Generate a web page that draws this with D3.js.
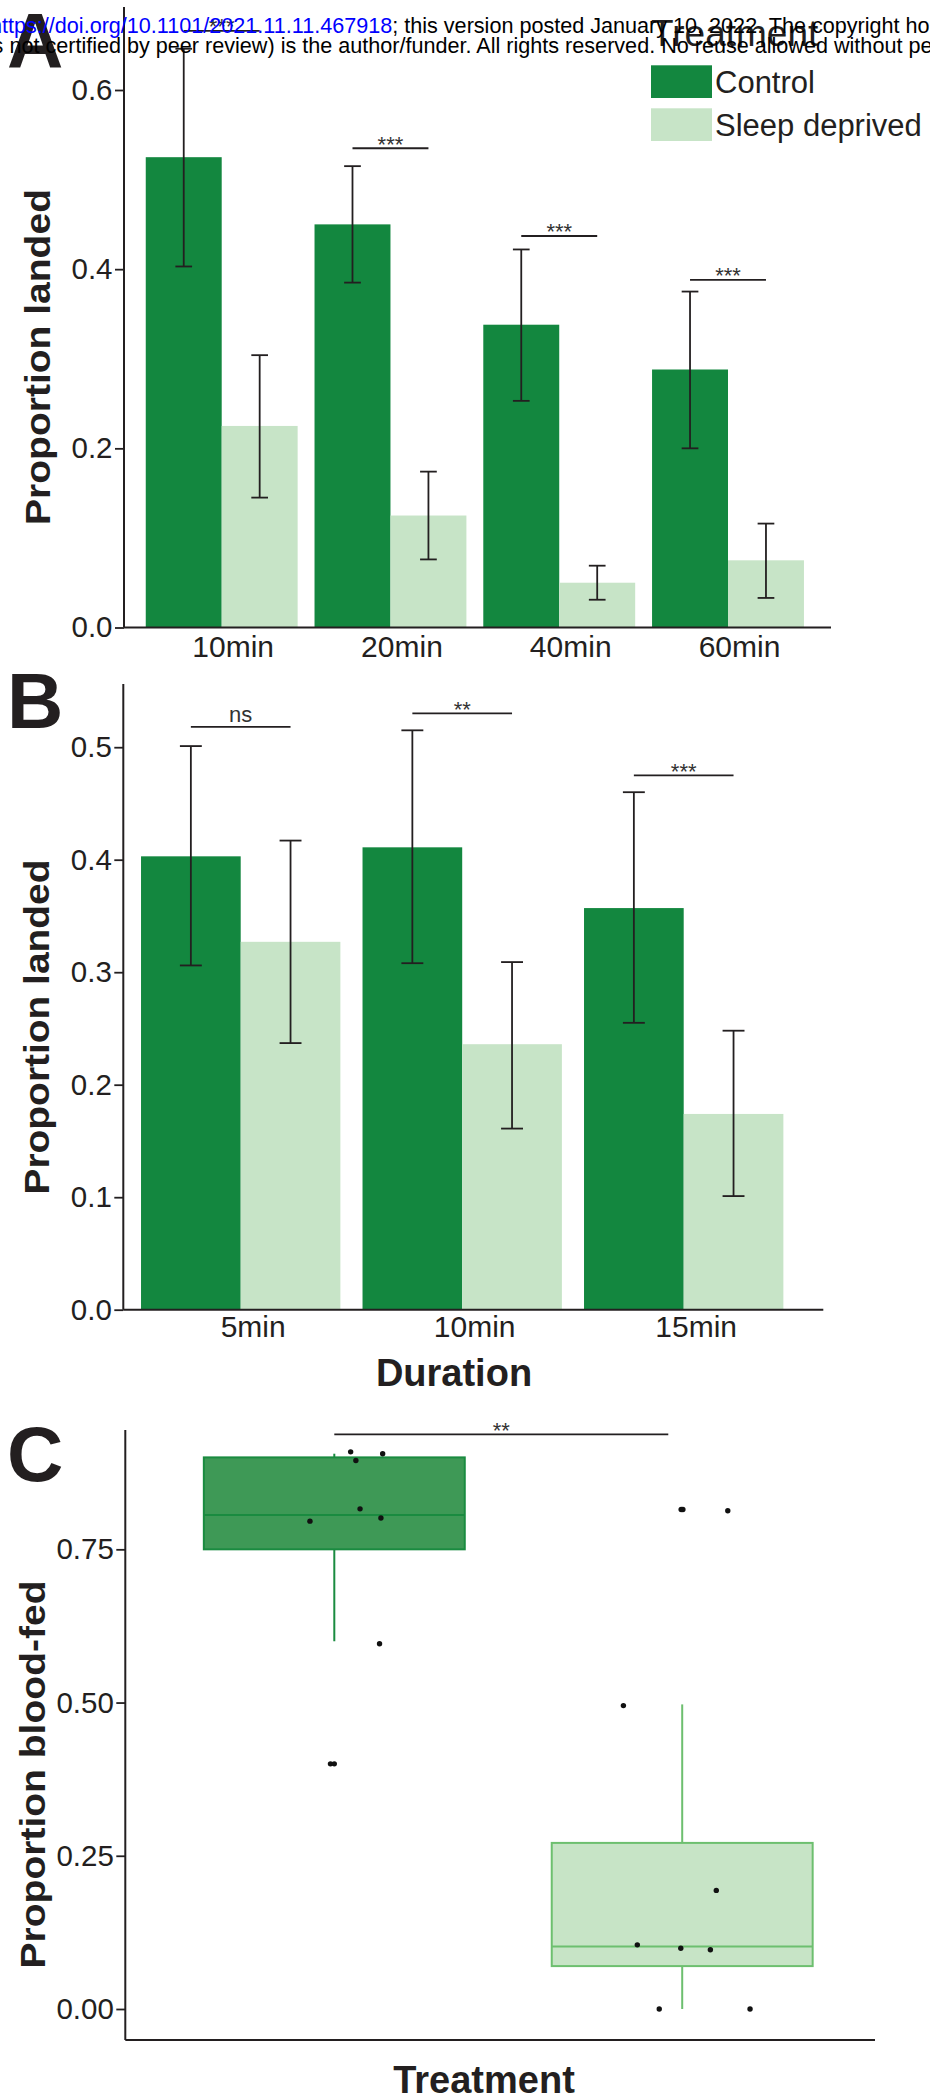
<!DOCTYPE html>
<html><head><meta charset="utf-8">
<script src="https://cdn.jsdelivr.net/npm/d3@7"></script>
<style>html,body{margin:0;padding:0;background:#fff;} svg{display:block}</style>
</head><body>
<svg id="chart" width="930" height="2099"></svg>
<script>
// ---------- DATA ----------
// Panel A
const durationsA = ["10min", "20min", "40min", "60min"];
const controlA   = [0.525, 0.450, 0.338, 0.288];
const controlALo = [0.403, 0.385, 0.253, 0.200];
const controlAHi = [0.646, 0.515, 0.422, 0.375];
const sleepA     = [0.225, 0.125, 0.050, 0.075];
const sleepALo   = [0.145, 0.076, 0.031, 0.033];
const sleepAHi   = [0.304, 0.174, 0.069, 0.116];
const sigA       = ["***", "***", "***", "***"];
const sigALevel  = [0.666, 0.535, 0.437, 0.388];
const yTicksA    = [0.0, 0.2, 0.4, 0.6];

// Panel B
const durationsB = ["5min", "10min", "15min"];
const controlB   = [0.403, 0.411, 0.357];
const controlBLo = [0.306, 0.308, 0.255];
const controlBHi = [0.501, 0.515, 0.460];
const sleepB     = [0.327, 0.236, 0.174];
const sleepBLo   = [0.237, 0.161, 0.101];
const sleepBHi   = [0.417, 0.309, 0.248];
const sigB       = ["ns", "**", "***"];
const sigBLevel  = [0.518, 0.530, 0.475];
const yTicksB    = [0.0, 0.1, 0.2, 0.3, 0.4, 0.5];

// Panel C
const treatments   = ["Control", "Sleep deprived"];
const boxLow       = [0.600, 0.000];
const boxQ1        = [0.750, 0.070];
const boxMedian    = [0.806, 0.102];
const boxQ3        = [0.900, 0.271];
const boxHigh      = [0.906, 0.497];
const pointsControl = [0.909, 0.906, 0.895, 0.816, 0.801, 0.796, 0.596, 0.400, 0.400];
const jitterControl = [0.047, 0.139, 0.062, 0.074, 0.134, -0.070, 0.130, -0.011, 0.000];
const pointsSleep   = [0.815, 0.815, 0.813, 0.495, 0.1935, 0.1047, 0.099, 0.0967, 0.000, 0.000];
const jitterSleep   = [-0.003, 0.002, 0.131, -0.169, 0.098, -0.129, -0.004, 0.081, -0.066, 0.195];
const sigC          = "**";
const sigCLevel     = 0.9375;
const yTicksC       = [0.00, 0.25, 0.50, 0.75];

const legendTitle = "Treatment";
const legendLabels = ["Control", "Sleep deprived"];

// ---------- STYLE ----------
const svg = d3.select("#chart");
const FONT = "'Liberation Sans', Arial, Helvetica, sans-serif";
const INK = "#231f20";
const C_CTRL = "#13873f", C_SLEEP = "#c7e4c7";
const BOX_FILL = ["#3e9956", "#c7e4c6"], BOX_STROKE = ["#1a8b40", "#6dbf6f"];

function styleAxis(g, fs) {
  g.select(".domain").remove();
  g.selectAll(".tick line").attr("stroke", INK).attr("stroke-width", 1.8);
  g.selectAll(".tick text").attr("fill", INK).style("font-family", FONT).style("font-size", fs + "px");
}

function sigText(g, xm, yl, txt) {
  g.append("text").attr("x", xm).attr("y", yl + (txt.includes("*") ? 3.3 : -5))
    .attr("text-anchor", "middle").attr("fill", "#333")
    .style("font-family", FONT).style("font-size", "22px").text(txt);
}

function barPanel(cfg) {
  const x = d3.scalePoint().domain(cfg.cats).range(cfg.xRange);
  const y = d3.scaleLinear().domain(cfg.yDomain).range(cfg.yRange);
  const bw = x.step() * 0.45;
  const cap = bw * 0.22;
  const g = svg.append("g");
  const series = [
    {v: cfg.ctrl, lo: cfg.ctrlLo, hi: cfg.ctrlHi, color: C_CTRL, off: -1},
    {v: cfg.sleep, lo: cfg.sleepLo, hi: cfg.sleepHi, color: C_SLEEP, off: 0}
  ];
  series.forEach(s => {
    g.append("g").selectAll("rect").data(cfg.cats).join("rect")
      .attr("x", c => x(c) + s.off * bw)
      .attr("y", (c, i) => y(s.v[i]))
      .attr("width", bw)
      .attr("height", (c, i) => y(0) - y(s.v[i]))
      .attr("fill", s.color);
  });
  series.forEach(s => {
    const eg = g.append("g").attr("stroke", INK).attr("stroke-width", 1.8);
    cfg.cats.forEach((c, i) => {
      const cx = x(c) + s.off * bw + bw / 2;
      eg.append("line").attr("x1", cx).attr("x2", cx).attr("y1", y(s.hi[i])).attr("y2", y(s.lo[i]));
      eg.append("line").attr("x1", cx - cap / 2).attr("x2", cx + cap / 2).attr("y1", y(s.hi[i])).attr("y2", y(s.hi[i]));
      eg.append("line").attr("x1", cx - cap / 2).attr("x2", cx + cap / 2).attr("y1", y(s.lo[i])).attr("y2", y(s.lo[i]));
    });
  });
  // significance
  cfg.cats.forEach((c, i) => {
    const yl = y(cfg.sigLevel[i]);
    g.append("line").attr("x1", x(c) - bw / 2).attr("x2", x(c) + bw / 2)
      .attr("y1", yl).attr("y2", yl).attr("stroke", INK).attr("stroke-width", 1.8);
    sigText(g, x(c), yl, cfg.sig[i]);
  });
  // axes
  const ya = g.append("g").attr("transform", `translate(${cfg.axisX},0)`)
    .call(d3.axisLeft(y).tickValues(cfg.ticks).tickFormat(d3.format(".1f"))
      .tickSizeInner(9).tickSizeOuter(0).tickPadding(2.5));
  styleAxis(ya, 29.5);
  g.append("line").attr("x1", cfg.axisX).attr("x2", cfg.axisX).attr("y1", cfg.axisTop).attr("y2", y(0))
    .attr("stroke", INK).attr("stroke-width", 2);
  const xa = g.append("g").attr("transform", `translate(0,${y(0)})`)
    .call(d3.axisBottom(x).tickSize(0).tickPadding(cfg.labelPad));
  styleAxis(xa, 30);
  xa.selectAll(".tick text").attr("dx", cfg.labelDx);
  g.append("line").attr("x1", cfg.axisX).attr("x2", cfg.axisRight).attr("y1", y(0)).attr("y2", y(0))
    .attr("stroke", INK).attr("stroke-width", 2);
  // y title
  g.append("text")
    .attr("transform", `translate(${cfg.titleX},${cfg.titleY}) rotate(-90)`)
    .attr("text-anchor", "middle").attr("fill", INK)
    .attr("textLength", cfg.titleLen).attr("lengthAdjust", "spacingAndGlyphs")
    .style("font-family", FONT).style("font-size", "35px").style("font-weight", "bold")
    .text("Proportion landed");
  return g;
}

// ---------- PANEL A ----------
barPanel({
  cats: durationsA, ctrl: controlA, ctrlLo: controlALo, ctrlHi: controlAHi,
  sleep: sleepA, sleepLo: sleepALo, sleepHi: sleepAHi,
  sig: sigA, sigLevel: sigALevel, ticks: yTicksA,
  yDomain: [0, 0.6], yRange: [627.5, 90], xRange: [221.7, 728],
  axisX: 124, axisTop: 7, axisRight: 831, labelPad: 8, labelDx: 11,
  titleX: 50, titleY: 357, titleLen: 336
});

// legend
const lg = svg.append("g");
lg.append("text").attr("x", 651).attr("y", 46).attr("fill", INK)
  .style("font-family", FONT).style("font-size", "37px").text(legendTitle);
[C_CTRL, C_SLEEP].forEach((col, i) => {
  lg.append("rect").attr("x", 651).attr("y", 65.3 + i * 43).attr("width", 61).attr("height", 32.7).attr("fill", col);
  lg.append("text").attr("x", 715).attr("y", 93 + i * 42.5).attr("fill", INK)
    .style("font-family", FONT).style("font-size", "31px").text(legendLabels[i]);
});

// ---------- PANEL B ----------
barPanel({
  cats: durationsB, ctrl: controlB, ctrlLo: controlBLo, ctrlHi: controlBHi,
  sleep: sleepB, sleepLo: sleepBLo, sleepHi: sleepBHi,
  sig: sigB, sigLevel: sigBLevel, ticks: yTicksB,
  yDomain: [0, 0.5], yRange: [1309.7, 747.2], xRange: [240.7, 683.7],
  axisX: 123.3, axisTop: 684, axisRight: 823.3, labelPad: 6, labelDx: 12,
  titleX: 49, titleY: 1027, titleLen: 335
});
svg.append("text").attr("x", 454).attr("y", 1386).attr("text-anchor", "middle").attr("fill", INK)
  .style("font-family", FONT).style("font-size", "38px").style("font-weight", "bold").text("Duration");

// ---------- PANEL C ----------
(function () {
  const x = d3.scalePoint().domain(treatments).range([334.3, 682.2]);
  const xi = d3.scaleLinear().domain([0, 1]).range([334.3, 682.2]);
  const y = d3.scaleLinear().domain([0, 1]).range([2009, 1396.1]);
  const bw = x.step() * 0.75;
  const g = svg.append("g");
  treatments.forEach((t, i) => {
    const cx = x(t);
    const bg = g.append("g").attr("stroke", BOX_STROKE[i]).attr("stroke-width", 2);
    bg.append("line").attr("x1", cx).attr("x2", cx).attr("y1", y(boxHigh[i])).attr("y2", y(boxQ3[i]));
    bg.append("line").attr("x1", cx).attr("x2", cx).attr("y1", y(boxQ1[i])).attr("y2", y(boxLow[i]));
    bg.append("rect").attr("x", cx - bw / 2).attr("y", y(boxQ3[i])).attr("width", bw)
      .attr("height", y(boxQ1[i]) - y(boxQ3[i])).attr("fill", BOX_FILL[i]);
    bg.append("line").attr("x1", cx - bw / 2).attr("x2", cx + bw / 2).attr("y1", y(boxMedian[i])).attr("y2", y(boxMedian[i]));
  });
  const pts = [
    {t: treatments[0], v: pointsControl, j: jitterControl},
    {t: treatments[1], v: pointsSleep, j: jitterSleep}
  ];
  pts.forEach(p => {
    g.append("g").selectAll("circle").data(p.v).join("circle")
      .attr("cx", (v, k) => x(p.t) + p.j[k] * x.step())
      .attr("cy", v => y(v)).attr("r", 2.7).attr("fill", "#111");
  });
  // significance
  const yl = y(sigCLevel);
  g.append("line").attr("x1", xi(0)).attr("x2", xi(0.96)).attr("y1", yl).attr("y2", yl)
    .attr("stroke", INK).attr("stroke-width", 1.8);
  sigText(g, (xi(0) + xi(0.96)) / 2, yl, sigC);
  // axes
  const ya = g.append("g").attr("transform", "translate(125.3,0)")
    .call(d3.axisLeft(y).tickValues(yTicksC).tickFormat(d3.format(".2f"))
      .tickSizeInner(9).tickSizeOuter(0).tickPadding(2.5));
  styleAxis(ya, 29.5);
  g.append("line").attr("x1", 125.3).attr("x2", 125.3).attr("y1", 1430).attr("y2", 2040)
    .attr("stroke", INK).attr("stroke-width", 2);
  g.append("line").attr("x1", 125.3).attr("x2", 875).attr("y1", 2040).attr("y2", 2040)
    .attr("stroke", INK).attr("stroke-width", 2);
  g.append("text")
    .attr("transform", "translate(45,1774.5) rotate(-90)")
    .attr("text-anchor", "middle").attr("fill", INK)
    .attr("textLength", 388).attr("lengthAdjust", "spacingAndGlyphs")
    .style("font-family", FONT).style("font-size", "35px").style("font-weight", "bold")
    .text("Proportion blood-fed");
  g.append("text").attr("x", 484).attr("y", 2092.7).attr("text-anchor", "middle").attr("fill", INK)
    .style("font-family", FONT).style("font-size", "38px").style("font-weight", "bold").text("Treatment");
})();

// ---------- PANEL LETTERS ----------
[["A", 68], ["B", 728], ["C", 1481]].forEach(([l, yy]) => {
  svg.append("text").attr("x", 7).attr("y", yy).attr("fill", INK)
    .style("font-family", FONT).style("font-size", "78px").style("font-weight", "bold").text(l);
});

// ---------- PREPRINT HEADER ----------
const hdr = svg.append("g").style("font-family", FONT).style("font-size", "21.6px");
const l1 = hdr.append("text").attr("x", -10).attr("y", 33);
l1.append("tspan").attr("fill", "#0000ff").text("https://doi.org/10.1101/2021.11.11.467918");
l1.append("tspan").attr("fill", "#000").text("; this version posted January 10, 2022. The copyright holder for this preprint");
hdr.append("text").attr("x", -35).attr("y", 53).attr("fill", "#000")
  .text("was not certified by peer review) is the author/funder. All rights reserved. No reuse allowed without permission.");
</script>
</body></html>
